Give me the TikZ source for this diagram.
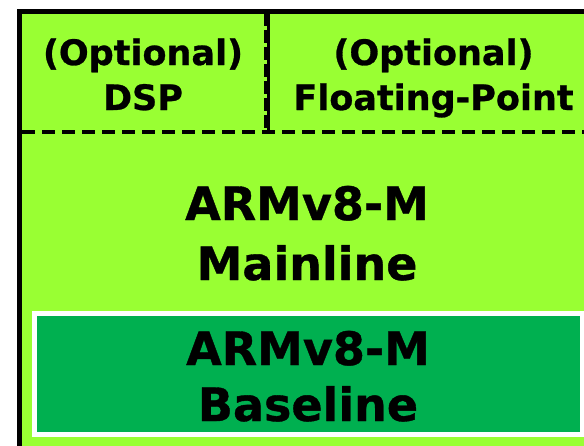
\documentclass[tikz,border=0pt]{standalone}
\usepackage{fontspec}
\setmainfont{DejaVu Sans}[BoldFeatures={FakeBold=0.8}]
\definecolor{lime}{RGB}{153,255,51}
\definecolor{dgreen}{RGB}{0,176,80}
\begin{document}
\begin{tikzpicture}[x=1pt,y=-1pt,
  lbl/.style={font=\bfseries\fontsize{35}{40}\selectfont, anchor=base, inner sep=0pt},
  big/.style={font=\bfseries\fontsize{46}{50}\selectfont, anchor=base, inner sep=0pt},
  dashline/.style={line width=4.5pt, dash pattern=on 13pt off 7pt}]
\useasboundingbox (0,0) rectangle (584,445);
\clip (0,0) rectangle (584,445);
\fill[white] (0,0) rectangle (584,445);
% outer box
\draw[line width=5pt, fill=lime] (19.5,11) rectangle (600,470);
% baseline box
\draw[line width=5pt, draw=white, fill=dgreen] (34.5,313.5) rectangle (582.5,434.5);
% dashed separators
\coordinate (hl) at (22,132);
\coordinate (hr) at (590,132);
\draw[dashline] (hl) -- (hr);
\coordinate (vt) at (265,13);
\coordinate (vb) at (265,132);
\draw[line width=3pt, dash pattern=on 13pt off 4pt] (vt) -- (vb);
\coordinate (st) at (268,13);
\coordinate (sb) at (268,132);
\draw[line width=3pt] (st) -- (sb);
% texts
\node[lbl] (dspA) at (143,65) {(Optional)};
\node[lbl] (dspB) at (143,110) {DSP};
\node[lbl] (fpA) at (433.5,65) {(Optional)};
\node[lbl] (fpB) at (433.5,110) {Floating-Point};
\node[big] (mA) at (307,220) {ARMv8-M};
\node[big] (mB) at (307,280) {Mainline};
\node[big] (bA) at (308,365) {ARMv8-M};
\node[big] (bB) at (308,421) {Baseline};
\end{tikzpicture}
\end{document}
